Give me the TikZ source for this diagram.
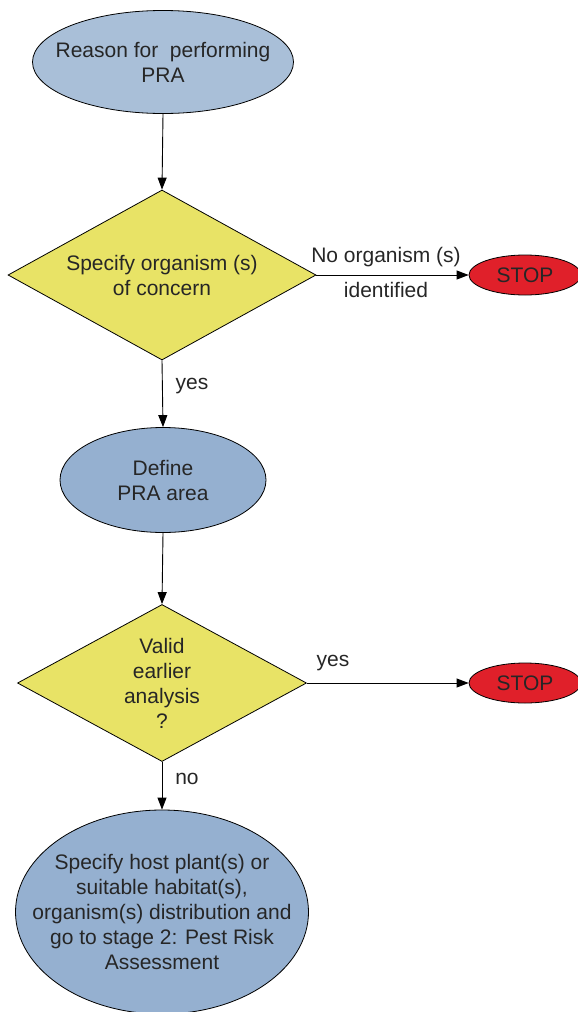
\documentclass[tikz,border=0pt]{standalone}
\usepackage{fontspec}
\setmainfont{Liberation Sans}
\usetikzlibrary{shapes.geometric,arrows.meta}
\definecolor{blueA}{HTML}{A9BFD8}
\definecolor{blueB}{HTML}{95B0D0}
\definecolor{yel}{HTML}{E8E366}
\definecolor{stopred}{HTML}{E0202A}
\tikzset{
  txt/.style={font=\fontsize{21}{25}\selectfont, align=center, text=black!85},
  ell/.style={ellipse, draw=black, line width=0.8pt, inner sep=0pt},
  dia/.style={diamond, draw=black, line width=0.8pt, fill=yel, inner sep=0pt},
  conn/.style={draw=black, line width=0.9pt, -{Triangle[length=12pt,width=9pt]}},
  lbl/.style={txt},
  ctext/.style={label={[txt]center:#1}}
}
\begin{document}
\begin{tikzpicture}[x=1pt,y=-1pt]
\useasboundingbox (0,0) rectangle (578,1012);
\node[ell, fill=blueA, minimum width=261, minimum height=103, ctext={Reason for\ \ performing\\PRA}] (reason) at (163,62) {};
\node[dia, minimum width=308, minimum height=170, ctext={Specify organism (s)\\of concern}] (spec) at (162,275) {};
\node[ell, fill=stopred, minimum width=112, minimum height=40, ctext={STOP}] (stop1) at (525,275) {};
\node[ell, fill=blueB, minimum width=206, minimum height=105, ctext={Define\\PRA area}] (area) at (163,480) {};
\node[dia, minimum width=289, minimum height=157, ctext={Valid\\earlier\\analysis\\?}] (valid) at (162,683) {};
\node[ell, fill=stopred, minimum width=112, minimum height=40, ctext={STOP}] (stop2) at (525,683) {};
\node[ell, fill=blueB, minimum width=293, minimum height=204, ctext={Specify host plant(s) or\\suitable habitat(s),\\organism(s) distribution and\\go to stage 2: Pest Risk\\Assessment}] (host) at (162,912) {};
\draw[conn] (reason.south) -- (spec.north);
\draw[conn] (spec.east) -- (stop1.west);
\draw[conn] (spec.south) -- (area.north);
\draw[conn] (area.south) -- (valid.north);
\draw[conn] (valid.east) -- (stop2.west);
\draw[conn] (valid.south) -- (host.north);
\node[lbl] (l1) at (386,257) {No organism (s)};
\node[lbl] (l2) at (386,290) {identified};
\node[lbl] (l3) at (192,386) {yes};
\node[lbl] (l4) at (333,663) {yes};
\node[lbl] (l5) at (187,779) {no};
\end{tikzpicture}
\end{document}
